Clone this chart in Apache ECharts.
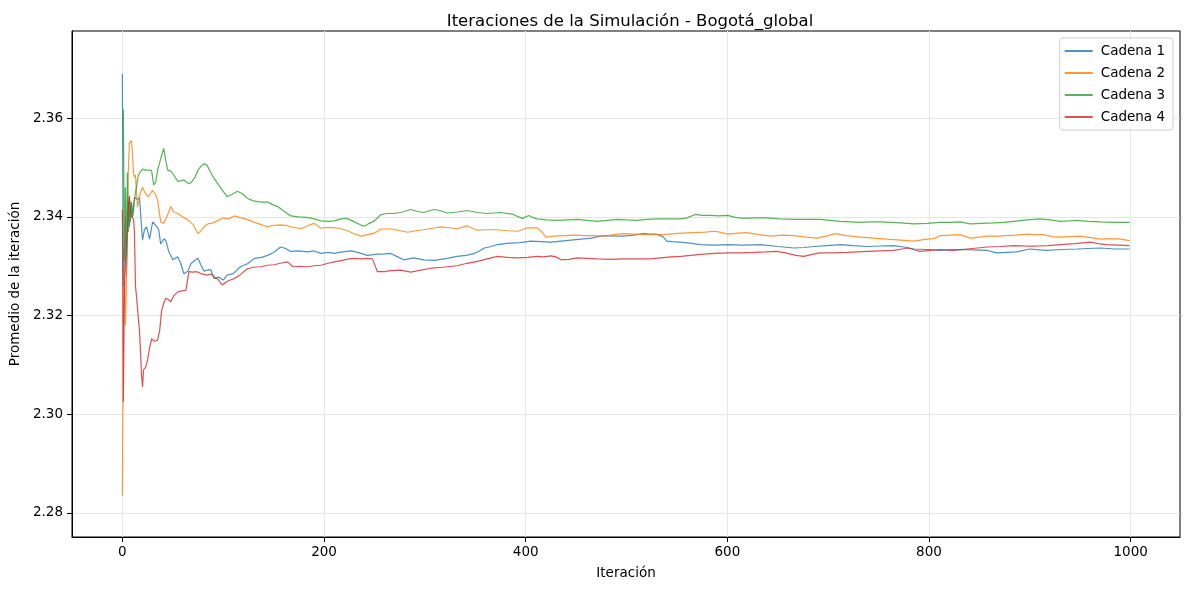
<!DOCTYPE html>
<html>
<head>
<meta charset="utf-8">
<script src="https://cdn.jsdelivr.net/npm/echarts@6/dist/echarts.min.js"></script>
<style>html,body{margin:0;padding:0;background:#fff}#c{width:1189px;height:590px}</style>
</head>
<body>
<div id="c"></div>
<script>
const seriesNames = ['Cadena 1', 'Cadena 2', 'Cadena 3', 'Cadena 4'];
const xTicks = [0, 200, 400, 600, 800, 1000];
const yTicks = [2.28, 2.30, 2.32, 2.34, 2.36];

const c1Iter = [0,1,2,3,4,5,6,7,8,9,10,11,12,13,15,17,19,20,22,24,27,30,33,36,38,41,43,46,50,55,58,61,65,68,72,75,78,81,85,88,91,95,100,104,110,117,124,131,138,144,150,157,162,167,175,184,190,197,204,210,218,227,235,243,251,260,266,272,279,289,299,310,322,332,341,349,355,359,366,372,379,385,395,405,415,425,435,445,455,465,472,478,488,497,507,517,524,530,536,540,545,553,563,573,587,600,616,633,650,666,676,686,699,712,725,739,752,765,775,785,798,811,821,831,845,858,867,877,887,900,910,917,932,947,958,970,985,999];
const c1Val = [2.369,2.326,2.333,2.340,2.328,2.336,2.343,2.338,2.341,2.343,2.340,2.342,2.344,2.344,2.3435,2.344,2.338,2.3353,2.3375,2.338,2.3355,2.339,2.3383,2.3375,2.3345,2.3355,2.3353,2.333,2.3313,2.3319,2.3305,2.3285,2.329,2.3305,2.3312,2.3316,2.3302,2.3290,2.3293,2.3292,2.3275,2.3278,2.3272,2.3282,2.3285,2.3299,2.3305,2.3316,2.3318,2.3322,2.3328,2.3339,2.3336,2.333,2.3331,2.3329,2.3331,2.3326,2.3328,2.3326,2.3329,2.3331,2.3327,2.3322,2.3324,2.3325,2.3326,2.3320,2.3313,2.3317,2.3313,2.3312,2.3316,2.332,2.3322,2.3326,2.3332,2.3337,2.334,2.3344,2.3346,2.3347,2.3348,2.3351,2.3350,2.3349,2.3351,2.3353,2.3355,2.3357,2.3360,2.3362,2.3361,2.3361,2.3363,2.3366,2.3365,2.3365,2.3360,2.3351,2.3350,2.3349,2.3347,2.3344,2.3343,2.3344,2.3343,2.3344,2.3340,2.3337,2.3338,2.334,2.3342,2.3344,2.3342,2.334,2.3341,2.3342,2.3339,2.3335,2.3334,2.3332,2.3333,2.3334,2.3333,2.3332,2.3327,2.3328,2.3329,2.3335,2.3333,2.3332,2.3334,2.3335,2.3336,2.3337,2.3335,2.3335];

const c2Iter = [0,1,2,3,4,5,6,7,8,9,10,11,12,13,14,15,17,18,20,22,24,26,28,30,33,35,38,41,44,48,51,55,60,65,70,75,78,81,85,90,94,100,105,111,117,124,131,137,144,150,157,162,167,172,177,184,190,197,204,210,217,223,230,237,243,250,256,266,276,283,291,299,308,316,324,332,342,352,362,372,382,392,402,411,416,420,428,438,448,458,468,478,488,497,507,517,527,537,547,557,567,578,588,595,600,610,620,631,643,655,666,678,689,698,707,718,732,745,758,772,785,798,805,811,821,831,841,850,858,868,877,887,897,905,914,922,930,940,950,960,970,980,990,999];
const c2Val = [2.2835,2.318,2.330,2.318,2.326,2.340,2.350,2.355,2.355,2.3555,2.353,2.349,2.348,2.3485,2.345,2.342,2.344,2.345,2.346,2.3451,2.3445,2.3441,2.3448,2.3454,2.3445,2.3434,2.339,2.3387,2.340,2.3421,2.341,2.3407,2.3400,2.3394,2.3385,2.3366,2.3372,2.338,2.3386,2.3388,2.3392,2.3398,2.3396,2.3402,2.3398,2.3395,2.3389,2.3385,2.338,2.3383,2.3384,2.3383,2.338,2.3378,2.3376,2.3382,2.3387,2.3377,2.3379,2.3378,2.3376,2.3372,2.3366,2.3361,2.3364,2.3367,2.3375,2.3376,2.3372,2.3369,2.3372,2.3374,2.3377,2.338,2.3378,2.3376,2.3382,2.3373,2.3374,2.3374,2.3372,2.3371,2.3378,2.3378,2.3370,2.3359,2.3361,2.3362,2.3363,2.3362,2.3362,2.3361,2.3364,2.3366,2.3365,2.3364,2.3364,2.3364,2.3366,2.3367,2.3368,2.3369,2.3371,2.3368,2.3365,2.3367,2.3368,2.3364,2.3361,2.3363,2.3362,2.3359,2.3357,2.3361,2.3366,2.3362,2.3359,2.3357,2.3355,2.3353,2.3351,2.3355,2.3356,2.3362,2.3363,2.3364,2.3357,2.3359,2.3361,2.3361,2.3362,2.3363,2.3365,2.3364,2.3364,2.336,2.3359,2.336,2.3361,2.3358,2.3355,2.3356,2.3355,2.3352];

const c3Iter = [0,1,2,3,4,5,6,7,8,9,10,11,12,13,14,15,16,18,20,23,26,29,31,33,35,37,39,41,43,45,48,51,55,58,61,65,68,72,75,78,81,84,87,91,95,100,104,109,114,119,124,129,134,139,144,149,154,160,167,175,183,190,197,204,210,217,223,230,236,240,245,250,256,262,270,278,286,293,299,304,309,315,322,332,342,352,362,375,388,393,397,403,407,411,421,431,441,451,461,471,481,491,500,510,520,530,543,553,560,568,575,583,592,600,608,616,628,639,652,666,680,692,702,712,722,732,742,752,762,772,785,798,811,821,831,841,852,864,874,884,897,910,920,930,940,947,958,970,985,999];
const c3Val = [2.362,2.3615,2.331,2.346,2.332,2.349,2.337,2.344,2.339,2.343,2.340,2.341,2.3435,2.345,2.346,2.3475,2.3485,2.3492,2.3497,2.3495,2.3495,2.3494,2.3465,2.347,2.3495,2.351,2.3525,2.3539,2.3515,2.3495,2.3493,2.3485,2.3472,2.3473,2.3475,2.3468,2.3469,2.348,2.3495,2.3503,2.3508,2.3505,2.3492,2.3478,2.3466,2.3452,2.3441,2.3446,2.3452,2.3447,2.3438,2.3433,2.3431,2.343,2.343,2.3425,2.3421,2.3412,2.3402,2.34,2.3399,2.3396,2.3392,2.3391,2.3392,2.3396,2.3397,2.339,2.3384,2.3381,2.3387,2.3392,2.3404,2.3407,2.3407,2.341,2.3415,2.3411,2.3409,2.3412,2.3415,2.3413,2.3408,2.341,2.3413,2.3409,2.3407,2.3409,2.3405,2.34,2.3397,2.3403,2.3399,2.3396,2.3394,2.3393,2.3394,2.3395,2.3393,2.3391,2.3393,2.3395,2.3394,2.3393,2.3395,2.3396,2.3396,2.3396,2.3398,2.3405,2.3403,2.3403,2.3402,2.3403,2.3399,2.3397,2.3398,2.3398,2.3396,2.3395,2.3395,2.3395,2.3393,2.3391,2.339,2.3389,2.339,2.339,2.3389,2.3388,2.3386,2.3387,2.3389,2.3389,2.339,2.3386,2.3387,2.3388,2.3389,2.3391,2.3394,2.3396,2.3394,2.3391,2.3392,2.3393,2.3391,2.339,2.3389,2.3389];

const c4Iter = [0,1,2,3,4,5,6,7,8,9,10,11,12,13,14,15,16,17,18,19,20,21,23,25,27,29,32,35,37,39,41,43,46,48,51,55,59,63,66,70,74,78,84,88,91,95,99,103,107,111,117,124,130,137,144,150,157,164,169,176,184,190,197,204,210,218,225,230,237,243,248,253,260,266,276,286,296,306,318,332,342,352,362,372,382,392,402,411,418,425,430,435,443,451,461,471,484,497,510,524,534,544,554,564,573,587,600,613,626,638,649,655,660,668,676,684,692,705,719,729,739,752,765,773,780,786,791,801,811,824,838,848,858,870,884,897,907,918,930,945,960,968,976,988,999];
const c4Val = [2.3415,2.3025,2.3255,2.3305,2.334,2.3372,2.3420,2.3443,2.3409,2.3402,2.3405,2.3395,2.337,2.326,2.324,2.3215,2.319,2.317,2.3125,2.308,2.3055,2.309,2.3095,2.311,2.3135,2.3153,2.3148,2.315,2.317,2.3211,2.3225,2.3235,2.3232,2.3228,2.324,2.3248,2.325,2.3251,2.3289,2.3288,2.3289,2.3285,2.3282,2.3284,2.3278,2.3273,2.3262,2.3268,2.3272,2.3275,2.3283,2.3295,2.3298,2.3299,2.3302,2.3303,2.3306,2.3309,2.3299,2.3300,2.3299,2.3301,2.3302,2.3306,2.3309,2.3312,2.3315,2.3316,2.3315,2.3316,2.3315,2.3289,2.3289,2.3291,2.3292,2.3288,2.3292,2.3296,2.3298,2.3301,2.3306,2.331,2.3315,2.332,2.3318,2.3317,2.3318,2.332,2.3319,2.3321,2.3319,2.3313,2.3314,2.3317,2.3316,2.3315,2.3314,2.3315,2.3315,2.3315,2.3317,2.3319,2.332,2.3322,2.3324,2.3326,2.3327,2.3327,2.3328,2.3329,2.333,2.3328,2.3326,2.3322,2.332,2.3324,2.3327,2.3327,2.3328,2.3329,2.333,2.3331,2.3332,2.3335,2.3337,2.3333,2.333,2.3332,2.3334,2.3332,2.3335,2.3337,2.3339,2.334,2.3342,2.3341,2.3341,2.3342,2.3344,2.3346,2.3349,2.3346,2.3344,2.3343,2.3342];

const colors = ['#1f77b4', '#ff7f0e', '#2ca02c', '#d62728'];
const iters = [c1Iter, c2Iter, c3Iter, c4Iter];
const vals = [c1Val, c2Val, c3Val, c4Val];

const font = 'DejaVu Sans';
const chart = echarts.init(document.getElementById('c'), null, {renderer: 'canvas'});
const series = seriesNames.map((name, k) => ({
  name: name,
  type: 'line',
  showSymbol: false,
  symbol: 'none',
  data: iters[k].map((x, i) => [x, vals[k][i]]),
  lineStyle: {color: colors[k], width: 1.2, opacity: 0.8},
  itemStyle: {color: colors[k], opacity: 0.8},
  z: 2 + k
}));

chart.setOption({
  animation: false,
  backgroundColor: '#fff',
  title: {
    text: 'Iteraciones de la Simulación - Bogotá_global',
    left: 625, top: 8, textAlign: 'center',
    textStyle: {fontFamily: font, fontSize: 16.5, fontWeight: 'normal', color: '#000'}
  },
  legend: {
    orient: 'vertical', right: 16, top: 38,
    backgroundColor: '#fff', borderColor: '#d0d0d0', borderWidth: 1, borderRadius: 3,
    padding: [6, 8, 6, 5], itemGap: 8, itemWidth: 28, itemHeight: 2,
    icon: 'rect',
    textStyle: {fontFamily: font, fontSize: 13.5, color: '#000', padding: [0, 0, 0, 3]},
    data: seriesNames
  },
  grid: {left: 70, right: 9, top: 31, bottom: 53, show: true, borderColor: '#000', borderWidth: 1, containLabel: false},
  xAxis: {
    type: 'value', min: -49.95, max: 1048.95,
    name: 'Iteración', nameLocation: 'middle', nameGap: 29,
    nameTextStyle: {fontFamily: font, fontSize: 13.5, color: '#000'},
    axisLine: {show: true, onZero: false, lineStyle: {color: '#000', width: 1}},
    axisTick: {show: true, length: 5, inside: false, lineStyle: {color: '#000'}, customValues: xTicks},
    axisLabel: {fontFamily: font, fontSize: 13.5, color: '#000', margin: 8, customValues: xTicks, formatter: v => String(v)},
    splitLine: {show: true, lineStyle: {color: '#e6e6e6', width: 1}}
  },
  yAxis: {
    type: 'value', min: 2.2751, max: 2.3777,
    name: 'Promedio de la iteración', nameLocation: 'middle', nameGap: 50, nameRotate: 90,
    nameTextStyle: {fontFamily: font, fontSize: 13.5, color: '#000'},
    axisLine: {show: true, onZero: false, lineStyle: {color: '#000', width: 1}},
    axisTick: {show: true, length: 5, inside: false, lineStyle: {color: '#000'}, customValues: yTicks},
    axisLabel: {fontFamily: font, fontSize: 13.5, color: '#000', margin: 9, customValues: yTicks, formatter: v => v.toFixed(2)},
    splitLine: {show: true, lineStyle: {color: '#e6e6e6', width: 1}}
  },
  series: series
});
</script>
</body>
</html>
